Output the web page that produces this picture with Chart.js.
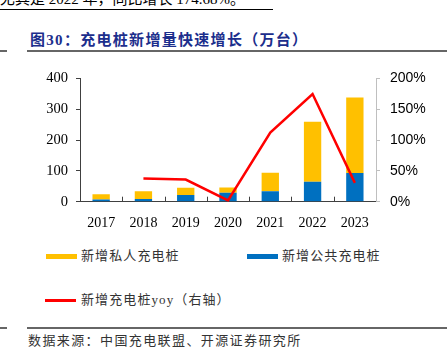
<!DOCTYPE html>
<html>
<head>
<meta charset="utf-8">
<script src="https://cdn.jsdelivr.net/npm/chart.js@4"></script>
<style>
  body { margin:0; width:447px; height:364px; background:#fff; position:relative; overflow:hidden;
         font-family:"Liberation Serif","Noto Sans CJK SC",serif; color:#222; }
  .abs { position:absolute; white-space:nowrap; }
  #topText { left:0; top:-10px; font-size:15px; line-height:18px; color:#000; }
  #topLine { left:0; top:9px; width:273px; height:1px; background:#000; }
  #title { left:30px; top:30px; font-size:15px; line-height:20px; font-weight:bold; color:#1c2e8c; letter-spacing:1.3px; }
  .rule { height:2px; background:#666; }
  .leg { font-size:13px; line-height:16px; letter-spacing:1.1px; color:#333; }
  .swatch { position:absolute; width:31px; height:5px; }
  #source { left:28px; top:333px; font-size:13px; line-height:16px; letter-spacing:1.4px; color:#333; }
  #wrap { position:absolute; left:0; top:60px; width:447px; height:170px; }
</style>
</head>
<body>
<div class="abs" id="topText">尤其是 2022 年，同比增长 174.68%。</div>
<div class="abs" id="topLine"></div>
<div class="abs" id="title">图30：充电桩新增量快速增长（万台）</div>
<div class="abs rule" style="left:0;top:50px;width:7px;"></div>
<div class="abs rule" style="left:27px;top:50px;width:420px;"></div>

<div id="wrap"><canvas id="chart"></canvas></div>

<div class="swatch" style="left:46px;top:254px;background:#FFC000;"></div>
<div class="abs leg" style="left:81px;top:248px;">新增私人充电桩</div>
<div class="swatch" style="left:247px;top:254px;background:#0070C0;"></div>
<div class="abs leg" style="left:282px;top:248px;">新增公共充电桩</div>
<div class="swatch" style="left:45px;top:299px;height:2.5px;background:#FF0000;"></div>
<div class="abs leg" style="left:81px;top:292px;">新增充电桩yoy（右轴）</div>

<div class="abs rule" style="left:0;top:327px;width:7px;"></div>
<div class="abs rule" style="left:27px;top:327px;width:420px;"></div>
<div class="abs" id="source">数据来源：中国充电联盟、开源证券研究所</div>

<script>
// data (万台, %)
const years = ['2017', '2018', '2019', '2020', '2021', '2022', '2023'];
const publicNew = [7, 9, 22, 29, 34, 65, 93];
const privateNew = [17, 25, 23, 17, 60, 194, 245];
const yoy = [null, 37.5, 36, 2, 112, 174.68, 30.5];
const leftTicks = [0, 100, 200, 300, 400];
const rightTicks = [0, 50, 100, 150, 200];

// small upward tick marks between categories on the x axis
const xTickMarks = {
  id: 'xTickMarks',
  afterDraw(chart) {
    const x = chart.scales.x, c = chart.ctx;
    const bottom = chart.chartArea.bottom;
    c.save();
    c.strokeStyle = '#404040';
    c.lineWidth = 1;
    for (let i = 1; i < years.length; i++) {
      const px = Math.round((x.getPixelForValue(i - 1) + x.getPixelForValue(i)) / 2) + 0.5;
      c.beginPath();
      c.moveTo(px, bottom);
      c.lineTo(px, bottom - 5);
      c.stroke();
    }
    c.restore();
  }
};

new Chart(document.getElementById('chart'), {
  type: 'bar',
  data: {
    labels: years,
    datasets: [
      { type: 'line', label: '新增充电桩yoy（右轴）', data: yoy, yAxisID: 'y1', order: 0,
        borderColor: '#FF0000', borderWidth: 2.5, pointRadius: 0, tension: 0, fill: false },
      { label: '新增公共充电桩', data: publicNew, backgroundColor: '#0070C0', yAxisID: 'y', order: 1 },
      { label: '新增私人充电桩', data: privateNew, backgroundColor: '#FFC000', yAxisID: 'y', order: 1 }
    ]
  },
  options: {
    responsive: true,
    maintainAspectRatio: false,
    animation: false,
    layout: { padding: { top: 17, left: 0, right: 0, bottom: 0 } },
    datasets: { bar: { barPercentage: 0.41, categoryPercentage: 1 } },
    plugins: { legend: { display: false }, tooltip: { enabled: false } },
    scales: {
      x: {
        stacked: true,
        grid: { display: false },
        border: { display: true, color: '#404040', width: 1 },
        ticks: { color: '#000', font: { family: 'Liberation Serif', size: 14 }, padding: 5, maxRotation: 0 },
        afterFit(s) { s.height = 28.3; }
      },
      y: {
        stacked: true,
        position: 'left',
        min: 0, max: 400,
        afterBuildTicks(s) { s.ticks = leftTicks.map(v => ({ value: v })); },
        grid: { drawOnChartArea: false, tickLength: 4, color: '#404040' },
        border: { display: true, color: '#404040', width: 1 },
        ticks: { color: '#000', font: { family: 'Liberation Serif', size: 14.5 }, padding: 8 },
        afterFit(s) { s.width = 80; }
      },
      y1: {
        position: 'right',
        min: 0, max: 200,
        afterBuildTicks(s) { s.ticks = rightTicks.map(v => ({ value: v })); },
        grid: { drawOnChartArea: false, tickLength: 4, color: '#bfbfbf' },
        border: { display: true, color: '#bfbfbf', width: 1 },
        ticks: { color: '#000', font: { family: 'Liberation Sans', size: 14 }, padding: 10,
                 callback: v => v + '%' },
        afterFit(s) { s.width = 71; }
      }
    }
  },
  plugins: [xTickMarks]
});
</script>
</body>
</html>
